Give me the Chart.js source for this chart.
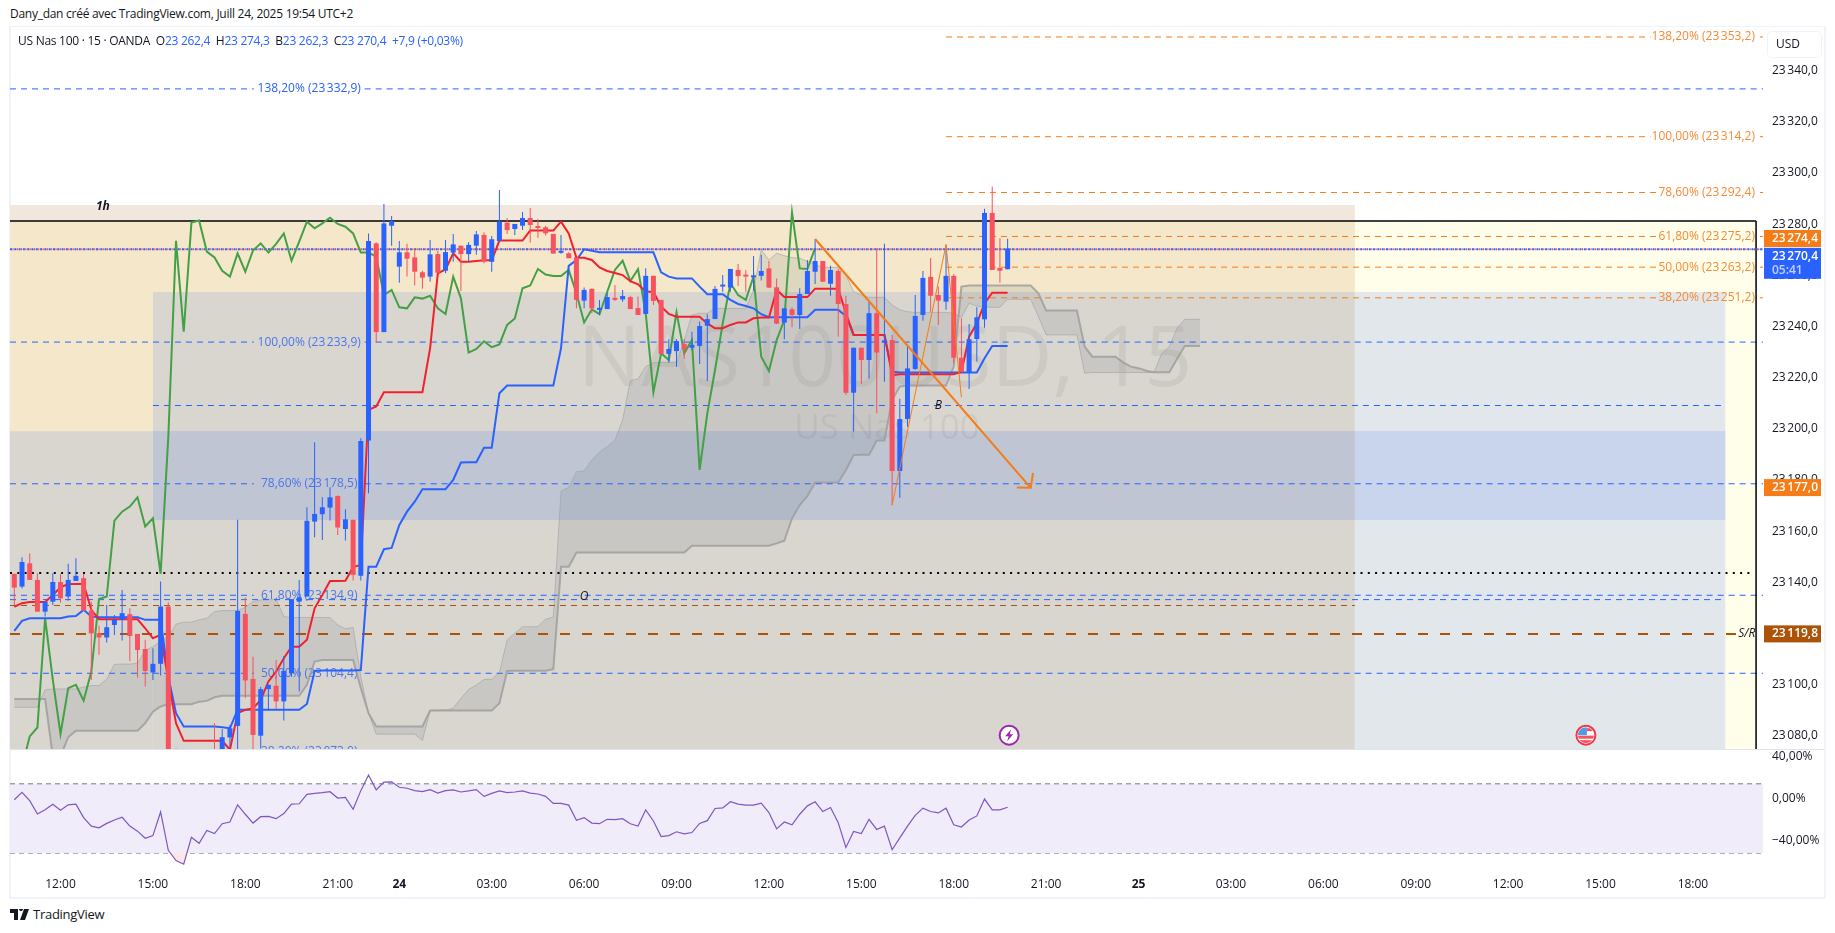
<!DOCTYPE html>
<html>
<head>
<meta charset="utf-8">
<title>US Nas 100</title>
<script src="https://cdn.jsdelivr.net/npm/chart.js@4"></script>
<style>
  html, body { margin: 0; padding: 0; background: #fff; width: 1835px; height: 933px; overflow: hidden; font-family: "Open Sans", sans-serif; color: #131722; }
  canvas { position: absolute; left: 10px; }
  #main { top: 27px; }
  #osc { top: 750px; }
  .frame { position: absolute; background: #f0f3fa; }
  .txt { position: absolute; white-space: pre; font-size: 12px; line-height: 16px; letter-spacing: -0.27px; }
  .txt b { font-weight: 400; color: #2962ff; }
</style>
</head>
<body>
<div class="txt" style="left:10px;top:6px">Dany_dan créé avec TradingView.com, Juill 24, 2025 19:54 UTC+2</div>
<div class="frame" style="left:9px;top:26px;width:1816px;height:1px"></div>
<div class="frame" style="left:9px;top:26px;width:2px;height:872px"></div>
<div class="frame" style="left:1824px;top:26px;width:2px;height:872px"></div>
<div class="frame" style="left:9px;top:897px;width:1817px;height:2px"></div>
<canvas id="main" width="1814" height="723"></canvas>
<canvas id="osc" width="1814" height="147"></canvas>
<div class="txt" style="left:18px;top:33px">US Nas 100 · 15 · OANDA  O<b>23 262,4</b>  H<b>23 274,3</b>  B<b>23 262,3</b>  C<b>23 270,4</b>  <b>+7,9 (+0,03%)</b></div>
<svg style="position:absolute;left:10px;top:909px" width="20" height="11" viewBox="0 0 20 11"><path d="M0 0h8v11H4V4H0zM9 0a2 2 0 1 1 0 .01zM14 0h5l-4 11h-5z" fill="#131722"/></svg>
<div class="txt" style="left:33px;top:906px;font-size:13px">TradingView</div>
<script>
const opens = [23143.3,23138.3,23147.4,23140.9,23128.5,23132.4,23140.1,23134.4,23140.5,23141.6,23128.9,23120,23118.4,23123.3,23125.3,23127.5,23119.8,23113.9,23104.7,23108.1,23130.5,23066,23062,23060,23064,23061,23066,23063,23079.3,23083.8,23127.6,23102.2,23080,23098.2,23099.5,23093.4,23104.4,23132.4,23134.4,23163.7,23166.6,23169.2,23173.7,23160.8,23164.4,23142.5,23195.4,23272.5,23237.8,23279.4,23263.4,23269,23267,23261.2,23259.5,23268.3,23261.8,23268.9,23271.6,23268.3,23271.6,23275.8,23265.3,23273.4,23280.6,23278.1,23279.4,23282.4,23279.3,23278.8,23276.2,23268.8,23268.6,23267,23250.1,23254.7,23246.5,23246.8,23251.2,23250.6,23251.5,23247.2,23244.9,23259.8,23250.4,23229.3,23230.4,23233.1,23231.7,23232.4,23240.3,23242.9,23255.6,23255.2,23262.1,23260.1,23259.2,23259.8,23262.7,23255.3,23241.5,23246.7,23244.5,23252.7,23261.4,23265.6,23256.7,23261.7,23248.8,23214.1,23231.7,23226.9,23245.2,23233.8,23234.7,23183.5,23203.8,23223.4,23244.5,23259.4,23252.3,23249.7,23259.8,23227.8,23222,23235.1,23242.8,23284.4,23262.9,23262.4];
const closes = [23137.9,23147.9,23140.9,23128.5,23132.4,23140.1,23133.7,23140.9,23142.5,23128.9,23120,23118.4,23122.4,23125.3,23127.9,23119,23113.5,23105.3,23108.1,23130.5,23066,23062,23060,23064,23061,23066,23063,23079.4,23082.9,23128.8,23101.6,23080.3,23098.2,23099.9,23093.4,23105.3,23133.4,23134.1,23164,23166.7,23169.3,23173.2,23161.4,23164.6,23142.9,23195.2,23273.4,23237.8,23280.3,23281.2,23269,23266.5,23261.4,23259.1,23268.2,23261,23269.1,23272.1,23268.3,23271.9,23276,23265.3,23274.1,23281,23277.7,23280.1,23282.4,23279.7,23278.5,23276.4,23268.5,23268.9,23266.7,23250.4,23254.3,23247.1,23246.7,23251.5,23250.4,23251.9,23246.8,23244.5,23259.8,23250,23229.3,23231.2,23234.3,23231.1,23232.8,23240.2,23242.9,23254.7,23255.8,23262.5,23259.7,23259.5,23259.8,23261.7,23255.2,23241.1,23247.1,23244.5,23252.7,23261.7,23265.6,23257.5,23262.1,23248.8,23214.1,23231.7,23226.9,23245.2,23229.8,23234.4,23183.5,23203.8,23223.6,23244.1,23259,23252,23250.1,23259.8,23227.8,23222.3,23235,23243.6,23284.4,23262.1,23261.8,23270.4];
const highs = [23143.3,23149.8,23151.3,23143.5,23132.4,23143.5,23143.3,23147.2,23149.4,23143.3,23132.4,23123,23131.1,23127.2,23137,23129.8,23119.8,23117.5,23114.2,23140.3,23132.2,23075,23066,23068,23067,23070,23084.9,23082.5,23084.2,23164.4,23134,23110.9,23099,23099.9,23109.6,23111.2,23133.4,23140.9,23169.3,23194.7,23173.2,23177.1,23174,23168.5,23164.4,23196.3,23276.4,23272.9,23287.9,23283.2,23273.4,23272.3,23270.6,23261.8,23273.8,23269.5,23273.8,23276.2,23271.6,23273,23277.3,23276.8,23275.4,23293.4,23282.4,23280.1,23284.8,23286.3,23282,23279.3,23276.2,23275.8,23269,23267,23255.2,23254.9,23250.4,23253,23256.2,23254.3,23252,23251.7,23262.8,23259.8,23250.4,23235,23235,23235,23237.9,23241.9,23244.8,23255.8,23260.1,23262.5,23264.4,23262.1,23267.6,23268,23265.6,23258.8,23247.1,23247.5,23254.9,23266,23274.1,23265.6,23263.7,23262.5,23252,23231.7,23231.7,23250,23270.6,23272.3,23236.7,23211.7,23232.8,23252.3,23261.7,23266.8,23255.6,23272.1,23260.5,23243.2,23241,23247.5,23286,23294.7,23274.5,23274.3];
const lows = [23131.1,23137.5,23140.9,23128.5,23126.6,23131.1,23132,23132.8,23140.5,23128.9,23101.8,23111.6,23116.4,23119.4,23117.2,23109.2,23102.7,23099.2,23101.8,23103.5,23060,23058,23055,23056,23058,23058,23060,23060,23075.8,23070,23094.7,23070,23075,23089.8,23090.4,23085.9,23103,23097.3,23134.4,23157.6,23156.5,23164.1,23158.5,23156.3,23140.7,23140.7,23174.8,23233.8,23237.8,23271.6,23257.1,23259.5,23256,23254.8,23257.5,23261,23260.8,23265.3,23253.9,23265.3,23268,23264.7,23261.4,23273.4,23276.2,23275.8,23277.7,23272.8,23274.7,23275.6,23268.5,23268.4,23266.7,23247.1,23247.1,23245.2,23244.5,23246.8,23250,23249.7,23246.8,23244.5,23244.9,23248.4,23229,23225.9,23224.3,23227.3,23230.7,23225.3,23218.7,23242.9,23253.6,23253.6,23255.8,23253.6,23254,23258,23255,23241,23235,23239.7,23239,23252.7,23256.6,23257.5,23252,23236,23213.2,23198.9,23217.5,23219.7,23206,23218.4,23170.2,23173,23200.8,23223,23242.2,23245.8,23240.6,23246.5,23225.6,23222.3,23215.6,23226.3,23239.5,23262.1,23257.1,23262.3];

const tenkan = [23130.4,23131.8,23132.3,23132.3,23132.3,23135,23138,23139.3,23139.3,23139.3,23129.2,23125.5,23125.5,23125.5,23125.5,23125.5,23125.5,23122,23118.1,23119.4,23101.8,23084.9,23078,23078,23078,23078,23078,23078,23074.5,23088.8,23090.1,23090.7,23094,23101.2,23105,23110.3,23114.8,23114.8,23117.5,23129.8,23135,23140.5,23140.5,23140.6,23145.9,23146.8,23207.4,23208.7,23214.3,23214.3,23214.3,23214.3,23214.3,23214.3,23231.5,23260.8,23262.3,23268.6,23265.3,23265.3,23265.6,23265.9,23265.9,23273.6,23273.6,23273.6,23273.6,23277.5,23277.5,23277.5,23277.5,23281,23276.4,23266.9,23266.9,23266,23263.1,23261.7,23260.9,23260.1,23257.7,23256.5,23253.6,23253.6,23247.8,23244.9,23243.8,23243.8,23243.8,23243.8,23241.2,23239.3,23239.3,23240.6,23241.6,23241.6,23243.2,23243.5,23243.5,23254.3,23251.5,23251.5,23251.5,23251.5,23254.8,23254.8,23254.8,23254.8,23245.2,23236.7,23236.7,23236.7,23236.7,23236.7,23221,23221.3,23221.3,23221.3,23221.3,23221.3,23221.3,23221.3,23221.3,23222.3,23236,23241.2,23249,23253.2,23253.2,23253.2];
const kijun = [23121,23124.9,23125.9,23125.9,23125.9,23125.9,23125.9,23126.6,23126.8,23129.2,23126.6,23126.3,23126.3,23126.3,23126.3,23126.3,23126.3,23125.3,23125.3,23125.3,23103.1,23088.8,23083.6,23083.6,23083.6,23083.6,23083.6,23083.3,23082.9,23090.1,23090.1,23090.1,23090.1,23090.1,23090.1,23090.1,23090.1,23090.1,23092.4,23105.3,23105.5,23105.5,23105.5,23105.5,23105.5,23105.7,23146.1,23146.1,23152.9,23153.4,23162.4,23167.6,23171.5,23176.4,23176.4,23176.4,23176.4,23180,23186.8,23186.9,23186.9,23192.6,23192.6,23213.9,23216.9,23216.9,23216.9,23216.9,23216.9,23216.9,23216.9,23231.5,23263.7,23266,23270.2,23269.6,23269,23269,23269,23269,23269,23269,23269,23269,23261.2,23259.5,23258.8,23258.8,23258.8,23255.6,23252.6,23252.6,23252.6,23250.4,23248.8,23248,23247.1,23244.8,23243.6,23243.6,23243.6,23243.6,23243.6,23243.6,23246.5,23246.5,23246.5,23246.5,23244.1,23236.7,23236.7,23236.7,23236.7,23236.7,23222.3,23222,23222,23222,23222,23222,23222,23222,23222,23222,23222,23222,23227.6,23232.4,23232.4,23232.4];
const chikou = [23060,23068,23079.7,23083.2,23125.9,23101.8,23080.7,23098.6,23099.9,23093.7,23105.1,23133.4,23134.4,23164.1,23167.6,23169.6,23173.2,23161.8,23165,23143.3,23196.9,23273.5,23238,23280.6,23281.4,23269.3,23267,23261.8,23259.5,23268.6,23261.4,23269.7,23272.5,23268.9,23272.3,23276.4,23265.7,23273.2,23281,23278.4,23280.3,23282.5,23280.1,23279,23276.4,23268.9,23268.9,23267.3,23252.3,23254.3,23247.5,23247.1,23251.4,23250.9,23252,23247.1,23244.9,23259.5,23251,23229.8,23231.2,23234.2,23231.9,23233,23240.6,23243.1,23254.9,23256,23262.5,23260.3,23259.7,23259.7,23262.1,23253,23241.6,23246.7,23244.8,23253.6,23262.1,23265.7,23257.8,23262.4,23245.2,23214.3,23229.5,23226.9,23245.5,23229.5,23234.7,23183.9,23206,23223,23241.2,23256.9,23252.3,23250.4,23259.5,23228.2,23222.6,23234.7,23242.5,23284.6,23262.7,23262.5,23270.6];
const spanThick = [23094.3,23094.3,23094.3,23094.3,23094.3,23072,23072,23079.4,23081.9,23081.9,23081.9,23081.9,23081.9,23081.9,23081.9,23081.9,23081.9,23084.9,23089.4,23091.4,23092.4,23092.3,23092.3,23092.3,23093.3,23093.6,23095,23095.6,23095.6,23095.6,23095.6,23095.6,23095.6,23095.6,23095.6,23095.6,23095.6,23095.6,23099.9,23109,23109.6,23109.6,23109.6,23109.6,23109.6,23098.6,23088.8,23083.6,23083.6,23083.6,23083.6,23083.6,23083.6,23083.6,23089.8,23089.8,23089.8,23089.8,23089.8,23089.8,23089.8,23089.8,23089.8,23092.7,23105.3,23105.4,23105.4,23105.4,23105.4,23105.4,23106,23146.1,23146.1,23151.6,23151.6,23151.6,23151.6,23151.6,23151.6,23151.6,23151.6,23151.6,23151.6,23151.6,23151.6,23151.6,23151.6,23151.6,23154.3,23154.3,23154.3,23154.3,23154.3,23154.3,23154.3,23154.3,23154.3,23154.3,23154.3,23155.2,23156.2,23165,23170.2,23173.7,23179,23179,23179,23179,23183.9,23189.7,23189.8,23189.8,23195.4,23195.4,23211.3,23216.5,23216.9,23216.9,23216.9,23216.9,23216.9,23216.9,23224.3,23255.6,23256,23256,23256,23256,23256,23256,23256,23256,23256,23253,23246.2,23246.2,23246.2,23246.2,23246.2,23232.1,23228.2,23228.2,23228.2,23228.2,23226,23224.3,23223.7,23222.7,23222.1,23222.1,23222.1,23227.3,23232.4,23232.4,23232.4];
const spanThin = [23091.1,23091.1,23091.1,23091.1,23097.9,23098.3,23098.3,23098.3,23098.3,23099,23099.6,23099.6,23102.1,23107.9,23108,23108,23108.3,23113.3,23114.8,23116.8,23118.8,23123.6,23124.4,23124.4,23125.3,23125.9,23128.5,23128.9,23128.9,23128.9,23130.2,23132.4,23133.1,23133.4,23133.4,23126.6,23126.2,23126.2,23126.2,23126.2,23126.2,23126.2,23123.3,23121.8,23122.3,23103.1,23088.8,23080.6,23080.6,23080.6,23080.6,23080.6,23080.6,23078.1,23089.8,23090,23090,23090.7,23094.6,23098.1,23099.8,23102,23102,23104.8,23117.4,23120,23122.6,23122.6,23122.6,23125.6,23126.3,23175.8,23177.1,23183.2,23183.6,23187.8,23191,23193,23195.6,23203.5,23218.8,23219.5,23224.3,23225.9,23225.9,23225.9,23225.9,23234.7,23244.5,23245.2,23245.2,23247.1,23247.1,23247.1,23247.1,23247.1,23254.3,23269.9,23266,23268.6,23267.7,23266.9,23266.7,23265.4,23264.3,23263.1,23263.1,23263.1,23260.1,23253.6,23252.3,23251.4,23251.4,23251.4,23248.4,23246.5,23245.8,23245.5,23245.5,23245.5,23245.5,23245.5,23245.2,23243.5,23249.1,23248,23247.5,23247.5,23247.5,23250.6,23250.6,23250.6,23250.6,23243.8,23236.7,23236.7,23236.7,23236.7,23236.7,23221.7,23222,23222,23222,23222,23222,23222,23222,23222,23222,23229.3,23232.1,23239.3,23242.8,23242.8,23242.8];
const rsi = [-1.2,5.9,-2.1,-14.7,-10.8,-5.4,-11.2,-6,-5.4,-18.2,-26.3,-27.9,-23.7,-20.5,-17.9,-26.3,-31.1,-37.9,-35.3,-12.8,-49.4,-59.1,-62.6,-36.9,-42.7,-30.5,-33.4,-24,-22.4,-6,-15,-23.4,-17.3,-17,-19.2,-14.4,-5.4,-5,4,4.9,5.6,6.5,.4,1.1,-10.2,7.5,22.3,8.2,15.6,15.9,10.7,9.8,7.5,6.5,8.5,5.2,7.5,8.2,6.2,7.2,8.5,2,4.9,7.2,5.6,6.2,7.2,5.2,4.3,2,-4.7,-4.7,-6.3,-20.8,-18.2,-23.4,-24,-19.8,-20.2,-19.2,-24,-26.3,-10.8,-21.4,-36.3,-35.3,-31.7,-33.7,-32.4,-23.7,-21.1,-9.5,-8.9,-3.1,-5.4,-6.3,-6.3,-4.4,-13.4,-28.9,-22.4,-25,-15,-7,-3.1,-12.4,-8.6,-23,-46.6,-31.4,-33.4,-19.8,-29.5,-26.3,-48.8,-37.5,-26.3,-16,-9.2,-12.4,-13.7,-9.2,-25,-27.2,-20.5,-16.6,-.5,-10.8,-10.8,-8.3];

const priceTicks = [23340,23320,23300,23280,23260,23240,23220,23200,23180,23160,23140,23120,23100,23080];
const rsiTicks = [40,0,-40];
const timeTickIdx = [6,18,30,42,50,62,74,86,98,110,122,134,146,158,170,182,194,206,218];
const timeTickLabels = ["12:00","15:00","18:00","21:00","24","03:00","06:00","09:00","12:00","15:00","18:00","21:00","25","03:00","06:00","09:00","12:00","15:00","18:00"];

const fibBlue = [23332.9,23233.9,23178.5,23134.9,23104.4,23073.9];
const fibBlueLabels = ["138,20% (23\u202f332,9)","100,00% (23\u202f233,9)","78,60% (23\u202f178,5)","61,80% (23\u202f134,9)","50,00% (23\u202f104,4)","38,20% (23\u202f073,9)"];
const fibOrange = [23353.2,23314.2,23292.4,23275.2,23263.2,23251.2];
const fibOrangeLabels = ["138,20% (23\u202f353,2)","100,00% (23\u202f314,2)","78,60% (23\u202f292,4)","61,80% (23\u202f275,2)","50,00% (23\u202f263,2)","38,20% (23\u202f251,2)"];

const srLevel = 23119.8, dotLevel = 23143.6, lastLevel = 23270.2, boxTop = 23281.2, brownLevel = 23130.9;
const shortBlue = [23209.1,23133.2];
const fibSwing = [[114,23170.1],[121,23271.9],[123,23212.3]];
const arrowLine = [[104,23274.2],[132,23176.9]];
const arrowHeadA = [[130.2,23177],[132,23176.9],[132.3,23182.7]];

// x0, x1, top value, bottom value, colour (painted in this order)
const zones = [
  [174.1,226.2,23281.2,23074,"#fffeeb"],
  [-0.56,174.1,23287.5,23281.2,"#f2e7dc"],
  [-0.56,174.1,23281.2,23253.5,"#f4e7ca"],
  [-0.56,18,23253.5,23199.1,"#f4e7ca"],
  [-0.56,18,23199.1,23074,"#d9d6cf"],
  [18,174.1,23253.5,23074,"#d9d6cf"],
  [18,174.1,23199.1,23164.3,"#bfc5d2"],
  [174.1,222.2,23253.5,23074,"#e2e7eb"],
  [174.1,222.2,23199.1,23164.3,"#c8d5ec"],
];
const textMarks = [["1h",11.5,23287,"italic bold 12px"],["B",120,23209.2,"italic 12px"],["O",74,23134.5,"italic 12px"],["S/R",225,23119.8,"italic 12px"]];

const priceTags = [
  [23274.4,"23\u202f274,4","#f57c17",""],
  [23264.7,"23\u202f270,4","#2962ff","05:41"],
  [23177,"23\u202f177,0","#f57c17",""],
  [23119.8,"23\u202f119,8","#ab5308",""],
];

const xMin = -0.56, xMax = 227.1;
const FONT = '"Open Sans", sans-serif';
const blue = "#2962ff", red = "#f7525f";
const fmtPrice = (v) => {
  let s = v.toFixed(1).replace(".", ",");
  return s.slice(0, 2) + "\u202f" + s.slice(2);
};
const pts = (arr) => arr.map((y, i) => ({ x: i, y }));
const pairs = (arr) => arr.map((p) => ({ x: p[0], y: p[1] }));
const isUp = closes.map((c, i) => c >= opens[i]);
const noPad = (axis) => { axis.paddingTop = 0; axis.paddingBottom = 0; axis.paddingLeft = 0; axis.paddingRight = 0; };

const lineDs = (data, color, width, order, extra = {}) => ({
  type: "line",
  data,
  borderColor: color,
  borderWidth: width,
  pointRadius: 0,
  tension: 0,
  spanGaps: false,
  order,
  ...extra,
});

// level with a hole where its label sits
const level = (y, x0, x1, gap0, gap1) => {
  if (gap0 === undefined) return [{ x: x0, y }, { x: x1, y }];
  return [{ x: x0, y }, { x: gap0, y }, { x: gap0, y: null }, { x: gap1, y }, { x: x1, y }];
};

const datasets = [];
// cloud first so index 0 fills to index 1
datasets.push(lineDs(pts(spanThick), "#9b9b9bcc", 2, 90, { fill: { target: 1, above: "#646e8224", below: "#646e8224" } }));
datasets.push(lineDs(pts(spanThin), "#a9a9a9aa", 1, 91));
fibBlue.forEach((v) => datasets.push(lineDs(level(v, xMin, xMax, 31.1, 45.5), blue, 1, 80, { borderDash: [6, 5] })));
shortBlue.forEach((v) => {
  const x0 = v === 23209.1 ? 18 : xMin;
  datasets.push(lineDs(level(v, x0, 222.2), blue, 1, 80, { borderDash: [6, 5] }));
});
const orangeGap = [212.5, 212.5, 213.3, 213.3, 213.3, 213.3];
fibOrange.forEach((v, i) => datasets.push(lineDs(level(v, 121, xMax, orangeGap[i], 226.7), "#f57c17", 1, 80, { borderDash: [6, 5] })));
datasets.push(lineDs(level(brownLevel, xMin, 174.1), "#ab5308", 1, 80, { borderDash: [6, 5] }));
datasets.push(lineDs(level(srLevel, xMin, 223.6), "#ab5308", 2, 79, { borderDash: [10, 12] }));
datasets.push(lineDs(level(dotLevel, xMin, 225.5), "#000000", 2, 79, { borderDash: [2, 5.3] }));
datasets.push(lineDs(level(boxTop, xMin, 226.2), "#000000", 1.5, 79));
datasets.push(lineDs([{ x: 226.2, y: boxTop }, { x: 226.2, y: 23070 }], "#000000", 1.5, 79));
datasets.push(lineDs(level(lastLevel, xMin, xMax), "#f23645", 2, 78, { borderDash: [1, 3.3], borderDashOffset: -2.5 }));
datasets.push(lineDs(level(lastLevel, xMin, xMax), blue, 2, 77, { borderDash: [2, 2.3] }));
datasets.push(lineDs(pts(chikou), "#43a047", 2, 50));
datasets.push(lineDs(pts(kijun), blue, 2, 49));
datasets.push(lineDs(pts(tenkan), "#f2202f", 2, 48));
// wicks then bodies, floating bars
datasets.push({
  type: "bar",
  data: highs.map((h, i) => ({ x: i, y: [lows[i], h] })),
  backgroundColor: isUp.map((u) => (u ? blue : red)),
  barThickness: 1,
  grouped: false,
  inflateAmount: 0,
  order: 20,
});
datasets.push({
  type: "bar",
  data: opens.map((o, i) => ({ x: i, y: [o, closes[i]] })),
  backgroundColor: isUp.map((u) => (u ? blue : red)),
  barThickness: 5,
  minBarLength: 2,
  grouped: false,
  inflateAmount: 0,
  order: 19,
});
datasets.push(lineDs(pairs(fibSwing), "#f57c17", 1, 10));
datasets.push(lineDs(pairs(arrowLine), "#f57c17", 2, 9));
datasets.push(lineDs(pairs(arrowHeadA), "#f57c17", 2, 9));

const drawZones = {
  id: "drawZones",
  beforeDatasetsDraw(chart) {
    const { ctx, scales, chartArea } = chart;
    const { x, y } = scales;
    ctx.save();
    ctx.beginPath();
    ctx.rect(chartArea.left, chartArea.top, chartArea.width, chartArea.height);
    ctx.clip();
    zones.forEach((z) => {
      const px0 = x.getPixelForValue(z[0]), px1 = x.getPixelForValue(z[1]);
      const py0 = y.getPixelForValue(z[2]), py1 = y.getPixelForValue(z[3]);
      ctx.fillStyle = z[4];
      ctx.fillRect(px0, py0, px1 - px0, py1 - py0);
    });
    // watermark
    ctx.textAlign = "center";
    ctx.textBaseline = "middle";
    ctx.fillStyle = "rgba(60,60,60,0.07)";
    ctx.font = "84px " + FONT;
    ctx.fillText("NAS100USD, 15", 875, 335);
    ctx.font = "35px " + FONT;
    ctx.fillText("US Nas 100", 877, 402);
    // fib labels
    ctx.font = "12px " + FONT;
    fibBlue.forEach((v, i) => {
      ctx.fillStyle = i === 0 ? "#2962ff" : "#4c76ee";
      ctx.fillText(fibBlueLabels[i], x.getPixelForValue(38.3), y.getPixelForValue(v));
    });
    ctx.restore();
  },
  afterDatasetsDraw(chart) {
    const { ctx, scales } = chart;
    const { x, y } = scales;
    ctx.save();
    ctx.textBaseline = "middle";
    ctx.textAlign = "right";
    ctx.font = "12px " + FONT;
    ctx.fillStyle = "#f68a35";
    fibOrange.forEach((v, i) => ctx.fillText(fibOrangeLabels[i], x.getPixelForValue(226.05), y.getPixelForValue(v)));
    ctx.textAlign = "center";
    ctx.fillStyle = "#131722";
    textMarks.forEach((m) => {
      ctx.font = m[3] + " " + FONT;
      ctx.fillText(m[0], x.getPixelForValue(m[1]), y.getPixelForValue(m[2]));
    });
    // event icons on the bottom edge
    const evY = y.getPixelForValue(23080.2);
    const ev1 = x.getPixelForValue(129.2), ev2 = x.getPixelForValue(204.1);
    ctx.lineWidth = 2;
    ctx.strokeStyle = "#9c27b0";
    ctx.fillStyle = "#fff";
    ctx.beginPath(); ctx.arc(ev1, evY, 9.5, 0, Math.PI * 2); ctx.fill(); ctx.stroke();
    ctx.fillStyle = "#9c27b0";
    ctx.beginPath();
    ctx.moveTo(ev1 + 2, evY - 6); ctx.lineTo(ev1 - 4, evY + 1); ctx.lineTo(ev1 - 0.5, evY + 1);
    ctx.lineTo(ev1 - 2, evY + 6); ctx.lineTo(ev1 + 4, evY - 1); ctx.lineTo(ev1 + 0.5, evY - 1);
    ctx.closePath(); ctx.fill();
    ctx.strokeStyle = "#f23645";
    ctx.fillStyle = "#fff";
    ctx.beginPath(); ctx.arc(ev2, evY, 9.5, 0, Math.PI * 2); ctx.fill(); ctx.stroke();
    ctx.save();
    ctx.beginPath(); ctx.arc(ev2, evY, 8, 0, Math.PI * 2); ctx.clip();
    ctx.fillStyle = "#f7525f";
    ctx.fillRect(ev2 - 9, evY + 0.5, 18, 3);
    ctx.fillRect(ev2 - 9, evY + 5, 18, 3);
    ctx.fillRect(ev2 + 1, evY - 7, 8, 3);
    ctx.fillStyle = "#4e9be8";
    ctx.fillRect(ev2 - 9, evY - 8, 10, 8);
    ctx.restore();
    ctx.restore();
  },
  afterDraw(chart) {
    const { ctx, scales } = chart;
    const { y } = scales;
    const tagX = 1754, tagW = 57;
    ctx.save();
    ctx.textBaseline = "middle";
    ctx.textAlign = "left";
    priceTags.forEach((t) => {
      const cy = y.getPixelForValue(t[0]);
      const h = t[3] ? 31 : 17;
      const top = t[3] ? cy - 15.5 : cy - 8.5;
      ctx.fillStyle = t[2];
      ctx.fillRect(tagX, top, tagW, h);
      ctx.fillStyle = "#fff";
      ctx.font = "600 12px " + FONT;
      ctx.fillText(t[1], tagX + 8, top + 8.5);
      if (t[3]) {
        ctx.fillStyle = "rgba(255,255,255,0.7)";
        ctx.fillText(t[3], tagX + 8, top + 22.5);
      }
    });
    // currency button
    ctx.strokeStyle = "#f0f3fa";
    ctx.lineWidth = 1;
    ctx.beginPath();
    ctx.roundRect(1757.5, 4.5, 54, 26, 4);
    ctx.stroke();
    ctx.fillStyle = "#131722";
    ctx.font = "12px " + FONT;
    ctx.fillText("USD", 1766, 18);
    ctx.strokeStyle = "#e0e3eb";
    ctx.beginPath();
    ctx.moveTo(0, 722.5);
    ctx.lineTo(1814, 722.5);
    ctx.stroke();
    ctx.restore();
  },
};

new Chart(document.getElementById("main").getContext("2d"), {
  type: "bar",
  data: { datasets },
  plugins: [drawZones],
  options: {
    responsive: false,
    animation: false,
    devicePixelRatio: 1,
    layout: { padding: 0 },
    plugins: { legend: { display: false }, tooltip: { enabled: false }, title: { display: false } },
    scales: {
      x: { type: "linear", min: xMin, max: xMax, offset: false, display: false },
      y: {
        type: "linear",
        position: "right",
        min: 23074.4,
        max: 23357.1,
        afterBuildTicks: (axis) => { axis.ticks = priceTicks.map((value) => ({ value })); },
        afterFit: (axis) => { axis.width = 61; noPad(axis); },
        grid: { display: false, drawTicks: false },
        border: { display: false },
        ticks: {
          padding: 9,
          color: "#131722",
          font: { family: FONT, size: 12 },
          autoSkip: false,
          callback: (v) => fmtPrice(v),
        },
      },
    },
  },
});

new Chart(document.getElementById("osc").getContext("2d"), {
  type: "line",
  data: {
    datasets: [
      lineDs(level(14, xMin, xMax), "#787b86", 1, 5, { borderDash: [5, 4], fill: { target: 1, above: "#f0ecf9", below: "#f0ecf9" } }),
      lineDs(level(-52, xMin, xMax), "#787b86", 1, 5, { borderDash: [5, 4] }),
      lineDs(level(-18.5, xMin, xMax), "#b2b5be", 1, 5, { borderDash: [5, 4] }),
      lineDs(pts(rsi), "#7e57c2", 1.2, 1, { fill: { target: { value: -52 }, above: "rgba(0,0,0,0)", below: "#fde6e6" } }),
    ],
  },
  options: {
    responsive: false,
    animation: false,
    devicePixelRatio: 1,
    layout: { padding: 0 },
    plugins: { legend: { display: false }, tooltip: { enabled: false }, title: { display: false } },
    scales: {
      x: {
        type: "linear",
        min: xMin,
        max: xMax,
        offset: false,
        afterBuildTicks: (axis) => { axis.ticks = timeTickIdx.map((value) => ({ value })); },
        afterFit: (axis) => { axis.height = 25; noPad(axis); },
        grid: { display: false, drawTicks: false },
        border: { display: false },
        ticks: {
          padding: 5,
          autoSkip: false,
          maxRotation: 0,
          color: "#131722",
          font: (ctx) => ({ family: FONT, size: 12, weight: ctx.index !== undefined && String(timeTickLabels[ctx.index]).length < 3 ? "700" : "400" }),
          callback: (v, i) => timeTickLabels[timeTickIdx.indexOf(v)],
        },
      },
      y: {
        type: "linear",
        position: "right",
        min: -70,
        max: 46.2,
        afterBuildTicks: (axis) => { axis.ticks = rsiTicks.map((value) => ({ value })); },
        afterFit: (axis) => { axis.width = 61; noPad(axis); },
        grid: { display: false, drawTicks: false },
        border: { display: false },
        ticks: {
          padding: 9,
          color: "#131722",
          font: { family: FONT, size: 12 },
          autoSkip: false,
          callback: (v) => (v < 0 ? "\u2212" : "") + Math.abs(v).toFixed(2).replace(".", ",") + "%",
        },
      },
    },
  },
});
</script>
</body>
</html>
